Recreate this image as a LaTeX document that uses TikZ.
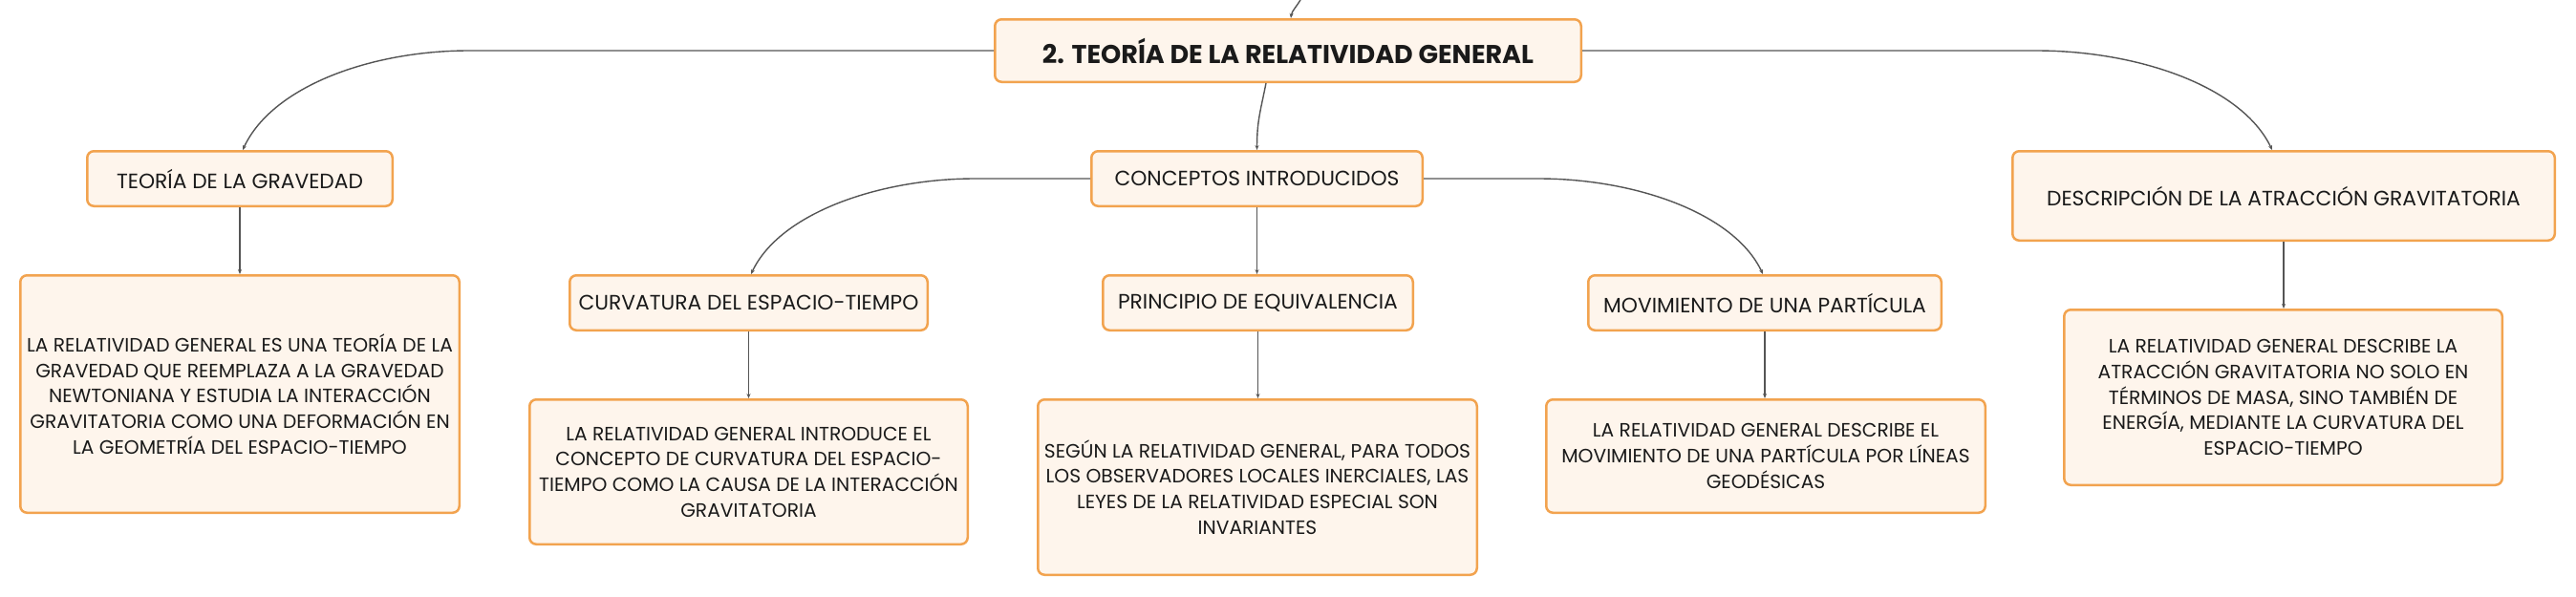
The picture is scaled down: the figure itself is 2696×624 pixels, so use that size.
\documentclass[tikz,border=0pt]{standalone}
\usepackage{fontspec}
\setmainfont{Poppins}
\usetikzlibrary{arrows.meta}
\definecolor{boxfill}{HTML}{FEF5EC}
\definecolor{boxline}{HTML}{F2A34F}
\definecolor{connc}{HTML}{555555}
\definecolor{txt}{HTML}{1A1A1A}
\tikzset{
  box/.style={draw=boxline, fill=boxfill, line width=2.5pt, rounded corners=7pt,
    text=txt, align=center, inner sep=0pt},
  lbl/.style={box, font=\fontsize{21.8}{26}\selectfont, minimum height=57.5pt},
  ttl/.style={box, font=\fontsize{27}{32}\selectfont\bfseries, minimum height=65.5pt},
  desc/.style={box, font=\fontsize{20.2}{26.7}\selectfont},
  link/.style={draw=connc, line width=1.4pt, -{Stealth[length=5pt,width=4pt]}}
}
\begin{document}
\begin{tikzpicture}[x=1pt,y=-1pt]
\useasboundingbox[fill=white] (0,0) rectangle (2696,624);

% nodes
\node[ttl, minimum width=613.5pt] (title) at (1348,53) {2. TEORÍA DE LA RELATIVIDAD GENERAL};
\node[lbl, minimum width=319.5pt] (tg) at (251,187) {TEORÍA DE LA GRAVEDAD};
\node[lbl, minimum width=346.5pt] (ci) at (1315.5,187) {CONCEPTOS INTRODUCIDOS};
\node[lbl, minimum width=567.5pt, minimum height=93.5pt] (da) at (2390,205) {DESCRIPCIÓN DE LA ATRACCIÓN GRAVITATORIA};
\node[lbl, minimum width=374.5pt] (cu) at (783.5,317) {CURVATURA DEL ESPACIO-TIEMPO};
\node[lbl, minimum width=324.5pt] (pe) at (1316.5,317) {PRINCIPIO DE EQUIVALENCIA};
\node[lbl, minimum width=369.5pt] (mp) at (1847,317) {MOVIMIENTO DE UNA PARTÍCULA};

\node[desc, minimum width=459.5pt, minimum height=248.5pt] (tgd) at (251,412.5)
  {LA RELATIVIDAD GENERAL ES UNA TEORÍA DE LA\\GRAVEDAD QUE REEMPLAZA A LA GRAVEDAD\\NEWTONIANA Y ESTUDIA LA INTERACCIÓN\\GRAVITATORIA COMO UNA DEFORMACIÓN EN\\LA GEOMETRÍA DEL ESPACIO-TIEMPO};
\node[desc, minimum width=458.5pt, minimum height=151.5pt] (cud) at (783.5,494)
  {LA RELATIVIDAD GENERAL INTRODUCE EL\\CONCEPTO DE CURVATURA DEL ESPACIO-\\TIEMPO COMO LA CAUSA DE LA INTERACCIÓN\\GRAVITATORIA};
\node[desc, minimum width=459.5pt, minimum height=183.5pt] (ped) at (1316,510)
  {SEGÚN LA RELATIVIDAD GENERAL, PARA TODOS\\LOS OBSERVADORES LOCALES INERCIALES, LAS\\LEYES DE LA RELATIVIDAD ESPECIAL SON\\INVARIANTES};
\node[desc, minimum width=459.5pt, minimum height=118.5pt] (mpd) at (1848,477.5)
  {LA RELATIVIDAD GENERAL DESCRIBE EL\\MOVIMIENTO DE UNA PARTÍCULA POR LÍNEAS\\GEODÉSICAS};
\node[desc, minimum width=458.5pt, minimum height=183.5pt] (dad) at (2389.5,416)
  {LA RELATIVIDAD GENERAL DESCRIBE LA\\ATRACCIÓN GRAVITATORIA NO SOLO EN\\TÉRMINOS DE MASA, SINO TAMBIÉN DE\\ENERGÍA, MEDIANTE LA CURVATURA DEL\\ESPACIO-TIEMPO};

% connectors
\coordinate (up) at (1362,-2);
\draw[link] (up) .. controls +(-4,8) and +(1,-8) .. ([xshift=3pt]title.north);
\draw[link] ([xshift=-23pt]title.south) .. controls +(-6,30) and +(0,-30) .. (ci.north);
\draw[link] (title.west) -- ([xshift=240pt]tg.north |- title.west)
  .. controls +(-102,0) and +(31,-67) .. ([xshift=3pt]tg.north);
\draw[link] (title.east) -- ([xshift=-259pt]da.north |- title.east)
  .. controls +(106,0) and +(-32,-67) .. ([xshift=-12pt]da.north);
\draw[link] (ci.west) -- ([xshift=237pt]cu.north |- ci.west)
  .. controls +(-100,0) and +(30,-64) .. ([xshift=2.5pt]cu.north);
\draw[link] (ci.east) -- ([xshift=-237pt]mp.north |- ci.east)
  .. controls +(101,0) and +(-30,-64) .. ([xshift=-2pt]mp.north);
\draw[link] (ci.south) -- (ci.south |- pe.north);
\draw[link] (tg.south) -- (tgd.north);
\draw[link] (cu.south) -- (cud.north);
\draw[link] (pe.south) -- (pe.south |- ped.north);
\draw[link] (mp.south) -- (mp.south |- mpd.north);
\draw[link] (da.south) -- (da.south |- dad.north);
\end{tikzpicture}
\end{document}
